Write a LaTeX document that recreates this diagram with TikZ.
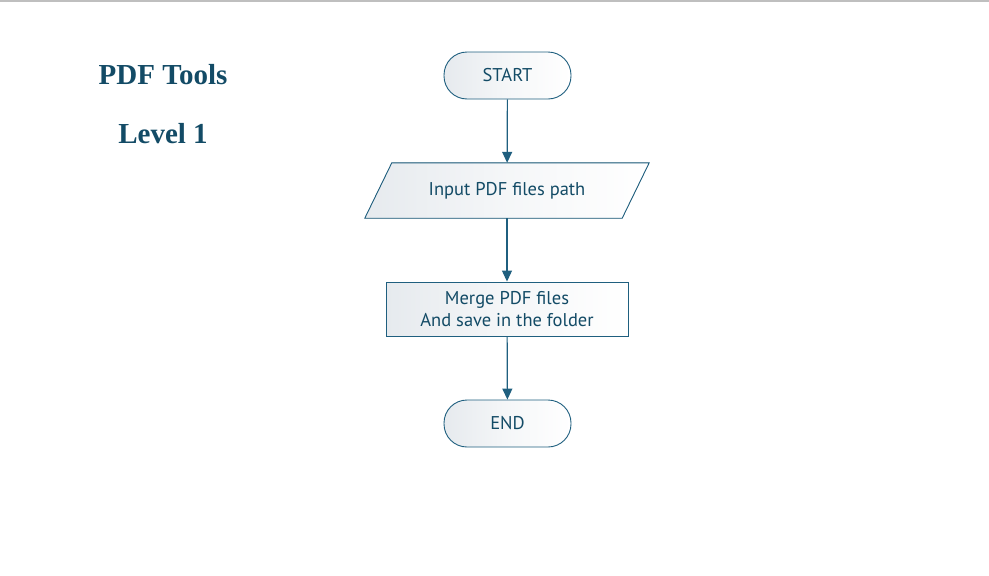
\documentclass[tikz,border=0pt]{standalone}
\usepackage{fontspec}
\setmainfont{PT Sans}
\newfontfamily\titlefont{Liberation Serif}
\usepackage{xcolor}
\usetikzlibrary{arrows.meta}

\definecolor{inkblue}{HTML}{134B66}
\definecolor{lineblue}{HTML}{1F5F7F}
\definecolor{shadegray}{HTML}{E6EAEE}

\tikzset{
  shade box/.style={left color=shadegray, right color=white, middle color=white!60!shadegray},
  box/.style={draw=lineblue, line width=0.9pt, shade box,
    text=inkblue, font=\fontsize{18.5}{22}\selectfont, align=center, inner sep=0pt},
  terminal/.style={box, rectangle, rounded corners=23pt, minimum width=127pt, minimum height=47pt},
  io/.style={text=inkblue, font=\fontsize{18.5}{22}\selectfont, inner sep=0pt,
    minimum width=257pt, minimum height=55pt},
  process/.style={box, rectangle, minimum width=242pt, minimum height=54pt},
  flow/.style={draw=lineblue, line width=1.2pt, -{Triangle[length=11pt,width=10pt]}},
  heading/.style={text=inkblue, font=\titlefont\bfseries\fontsize{29}{33}\selectfont}
}

\begin{document}
\begin{tikzpicture}[x=1pt, y=-1pt]
        \useasboundingbox (0,0) rectangle (989,576);
        \draw [black!25, line width=1.5pt] (0,0.75) to (989,0.75);

        \node [heading] (title) at (163,75) {PDF Tools};
        \node [heading] (level) at (163,134) {Level 1};

        \node [terminal] (start) at (507.5,75.5) {START};
        \node [process] (merge) at (507,309) {Merge PDF files\\And save in the folder};
        \node [terminal] (end) at (507.5,423.5) {END};

        % slanted input box
        \node [io] (input) at (507,190.5) {};
        \filldraw [draw=lineblue, line width=0.9pt, shade box]
            ([xshift=13.5pt]input.north west) -- ([xshift=13.5pt]input.north east)
            -- ([xshift=-13.5pt]input.south east) -- ([xshift=-13.5pt]input.south west) -- cycle;
        \node [io] (inputtext) at (input.center) {Input PDF files path};

        \draw [flow] (start) to (input);
        \draw [flow] (input) to (merge);
        \draw [flow] (merge) to (end);
    \end{tikzpicture}
\end{document}
